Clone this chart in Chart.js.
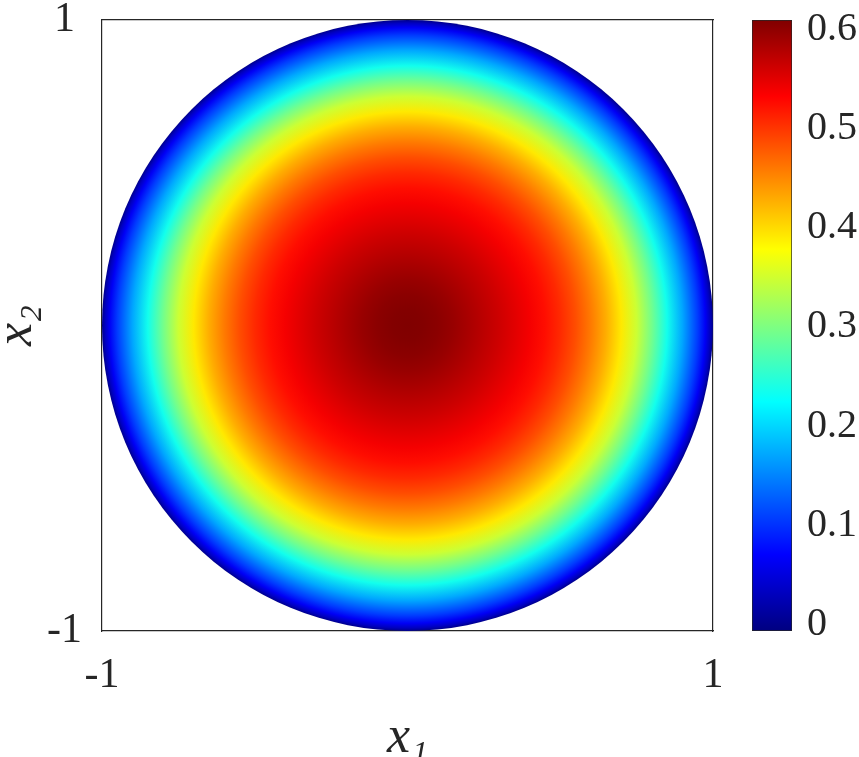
<!DOCTYPE html>
<html><head><meta charset="utf-8">
<script src="https://cdn.jsdelivr.net/npm/chart.js@4.4.1/dist/chart.umd.min.js"></script>
<style>
html,body{margin:0;padding:0;background:#fff;overflow:hidden}
#wrap{position:relative;width:859px;height:757px}
canvas{position:absolute;left:0;top:0}
</style></head><body>
<div id="wrap"><canvas id="main" width="859" height="757"></canvas><canvas id="cbar" width="859" height="757"></canvas></div>
<script>
// ---- data ----
// radial profile of the field over the unit disk (value vs. radius)
const radii   = [0.00, 0.05, 0.10, 0.15, 0.20, 0.25, 0.30, 0.35, 0.40, 0.45, 0.50, 0.55, 0.60, 0.65, 0.70, 0.75, 0.80, 0.85, 0.90, 0.95, 0.975, 0.99, 1.00];
const profile = [0.610, 0.608, 0.603, 0.595, 0.585, 0.574, 0.563, 0.551, 0.539, 0.525, 0.508, 0.486, 0.459, 0.428, 0.392, 0.348, 0.294, 0.235, 0.172, 0.106, 0.064, 0.032, 0.000];
const diskCenter = [0, 0];
const diskRadius = 1;
const colorRange = [-0.007, 0.61];
const axisTicks = [-1, 1];
const axisTickLabels = ['-1', '1'];
const colorbarTicks = [0, 0.1, 0.2, 0.3, 0.4, 0.5, 0.6];
const colorbarTickLabels = ['0', '0.1', '0.2', '0.3', '0.4', '0.5', '0.6'];
const xTitle = 'x\u2081';
const yTitle = 'x\u2082';

// ---- jet colormap ----
const jetStops = [0, 0.125, 0.375, 0.625, 0.875, 1];
function jet(t) {
  t = Math.min(1, Math.max(0, t));
  const c = v => Math.round(255 * Math.min(1, Math.max(0, v)));
  return 'rgb(' + c(1.5 - Math.abs(4 * t - 3)) + ',' + c(1.5 - Math.abs(4 * t - 2)) + ',' + c(1.5 - Math.abs(4 * t - 1)) + ')';
}
const norm = v => (v - colorRange[0]) / (colorRange[1] - colorRange[0]);

const F = "'Liberation Serif', 'DejaVu Serif', serif";
const INK = '#262626';
const tickFont = {family: F, size: 42};
const cbarFont = {family: F, size: 40};
const titleFont = {family: F, size: 52, style: 'italic', lineHeight: '34px'};
const borderOpt = {display: true, color: INK, width: 1.2};
const noPad = a => { a.paddingTop = 0; a.paddingBottom = 0; a.paddingLeft = 0; a.paddingRight = 0; };

function diskGeom(chart) {
  const xs = chart.scales.x, ys = chart.scales.y;
  if (!xs || !ys) return null;
  const cx = xs.getPixelForValue(diskCenter[0]);
  const cy = ys.getPixelForValue(diskCenter[1]);
  const R = Math.abs(xs.getPixelForValue(diskCenter[0] + diskRadius) - cx);
  if (![cx, cy, R].every(Number.isFinite) || R <= 0) return null;
  return {cx, cy, R};
}

new Chart(document.getElementById('main'), {
  type: 'scatter',
  data: {
    datasets: [{
      data: [{x: diskCenter[0], y: diskCenter[1]}],
      showLine: false,
      pointRadius: ctx => {
        const g = diskGeom(ctx.chart);
        return g ? g.R : 0;
      },
      pointHoverRadius: ctx => {
        const g = diskGeom(ctx.chart);
        return g ? g.R : 0;
      },
      pointBackgroundColor: ctx => {
        const d = diskGeom(ctx.chart);
        if (!d) return 'rgba(0,0,0,0)';
        const g = ctx.chart.ctx.createRadialGradient(d.cx, d.cy, 0, d.cx, d.cy, d.R);
        radii.forEach((r, i) => g.addColorStop(r, jet(norm(profile[i]))));
        return g;
      },
      pointBorderWidth: 0,
      clip: false
    }]
  },
  options: {
    responsive: false,
    animation: false,
    events: [],
    plugins: {legend: {display: false}, tooltip: {enabled: false}},
    layout: {padding: {left: 0, top: 20, right: 146, bottom: 0}},
    scales: {
      x: {
        type: 'linear', position: 'bottom', min: -1, max: 1,
        afterBuildTicks: a => { a.ticks = axisTicks.map(v => ({value: v})); },
        afterFit: a => { a.height = 126; noPad(a); },
        ticks: {callback: (v, i) => axisTickLabels[i], font: tickFont, color: INK, padding: 20, maxRotation: 0, autoSkip: false},
        grid: {display: false, drawTicks: false},
        border: borderOpt,
        title: {display: true, text: xTitle, font: titleFont, color: INK, padding: {top: 0, bottom: 2}}
      },
      y: {
        type: 'linear', position: 'left', min: -1, max: 1,
        afterBuildTicks: a => { a.ticks = axisTicks.map(v => ({value: v})); },
        afterFit: a => { a.width = 102; noPad(a); },
        ticks: {callback: (v, i) => axisTickLabels[i], font: tickFont, color: INK, padding: 20, crossAlign: 'center', autoSkip: false},
        grid: {display: false, drawTicks: false},
        border: borderOpt,
        title: {display: true, text: yTitle, font: titleFont, color: INK, padding: {top: 0, bottom: 0}}
      },
      x2: {
        type: 'linear', position: 'top', min: -1, max: 1,
        ticks: {display: false}, grid: {display: false, drawTicks: false}, border: borderOpt,
        afterFit: a => { a.height = 0; noPad(a); }
      },
      y2: {
        type: 'linear', position: 'right', min: -1, max: 1,
        ticks: {display: false}, grid: {display: false, drawTicks: false}, border: borderOpt,
        afterFit: a => { a.width = 0; noPad(a); }
      }
    }
  }
});

new Chart(document.getElementById('cbar'), {
  type: 'bar',
  data: {
    labels: [''],
    datasets: [{
      data: [[colorRange[0], colorRange[1]]],
      backgroundColor: ctx => {
        const ys = ctx.chart.scales.y;
        if (!ys) return 'rgba(0,0,0,0)';
        const y0 = ys.getPixelForValue(colorRange[0]);
        const y1 = ys.getPixelForValue(colorRange[1]);
        if (!Number.isFinite(y0) || !Number.isFinite(y1) || y0 === y1) return 'rgba(0,0,0,0)';
        const g = ctx.chart.ctx.createLinearGradient(0, y0, 0, y1);
        jetStops.forEach(t => g.addColorStop(t, jet(t)));
        return g;
      },
      borderColor: INK,
      borderWidth: 1,
      borderSkipped: false,
      barPercentage: 1,
      categoryPercentage: 1
    }]
  },
  options: {
    responsive: false,
    animation: false,
    events: [],
    plugins: {legend: {display: false}, tooltip: {enabled: false}},
    layout: {padding: {left: 752, top: 20, right: 0, bottom: 126}},
    scales: {
      x: {display: false},
      y: {
        position: 'right', min: colorRange[0], max: colorRange[1],
        afterBuildTicks: a => { a.ticks = colorbarTicks.map(v => ({value: v})); },
        afterFit: a => { a.width = 67; noPad(a); },
        ticks: {callback: (v, i) => colorbarTickLabels[i], font: cbarFont, color: INK, padding: 20, crossAlign: 'near', autoSkip: false},
        grid: {display: true, drawOnChartArea: false, drawTicks: true, tickLength: -5, color: INK, lineWidth: 1},
        border: {display: false}
      }
    }
  }
});
</script>
</body></html>
